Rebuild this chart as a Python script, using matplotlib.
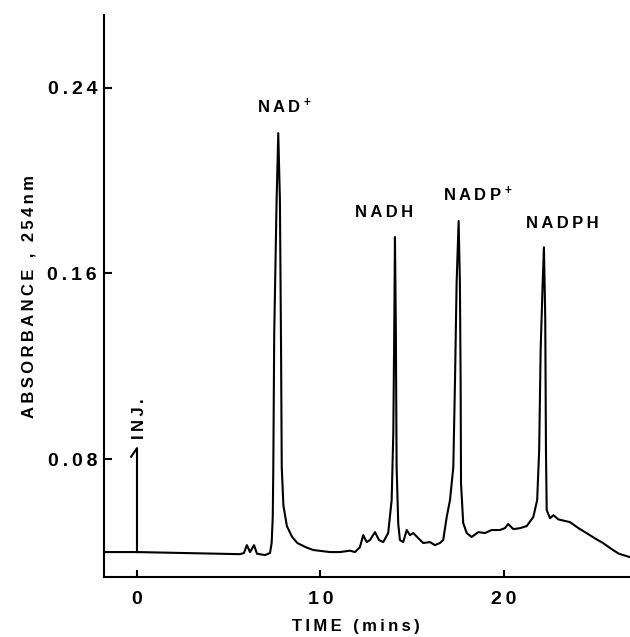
import matplotlib
matplotlib.use("Agg")
import matplotlib.pyplot as plt

# traced chromatogram (time in min, absorbance at 254 nm)
time = [-1.80, 0.00, 2.50, 5.61, 5.83, 5.99, 6.16, 6.38, 6.54, 6.98, 7.25,
        7.34, 7.40, 7.43, 7.48, 7.61, 7.70, 7.79, 7.85, 7.89, 7.98, 8.17, 8.45,
        8.74, 9.20, 9.60, 10.52, 11.06, 11.61, 11.88, 12.15, 12.33, 12.52, 12.70,
        12.97, 13.19, 13.42, 13.69, 13.88, 13.97, 14.02, 14.06, 14.11, 14.15,
        14.24, 14.33, 14.51, 14.70, 14.88, 15.06, 15.33, 15.60, 15.97, 16.24,
        16.51, 16.69, 16.88, 17.06, 17.24, 17.33, 17.42, 17.53, 17.60, 17.64,
        17.66, 17.78, 17.97, 18.24, 18.60, 18.96, 19.33, 19.78, 20.05, 20.23,
        20.51, 20.87, 21.24, 21.60, 21.81, 21.92, 22.00, 22.11, 22.18, 22.25,
        22.29, 22.33, 22.51, 22.70, 22.96, 23.60, 24.10, 24.50, 25.00, 25.40,
        25.90, 26.26, 26.87]
absorb = [0.0399, 0.0399, 0.0395, 0.0390, 0.0395, 0.0429, 0.0399, 0.0429, 0.0392,
          0.0386, 0.0395,
          0.0438, 0.0550, 0.0765, 0.1343, 0.1916, 0.2205, 0.1916, 0.1300, 0.0765,
          0.0600, 0.0511, 0.0465,
          0.0438, 0.0420, 0.0408, 0.0399, 0.0399, 0.0405, 0.0399, 0.0420, 0.0472,
          0.0442, 0.0451,
          0.0485, 0.0451, 0.0442, 0.0481, 0.0623, 0.0912, 0.1343, 0.1757, 0.1343,
          0.0765,
          0.0520, 0.0451, 0.0442, 0.0494, 0.0472, 0.0481, 0.0459, 0.0438, 0.0442,
          0.0429,
          0.0438, 0.0451, 0.0550, 0.0623, 0.0765, 0.1127, 0.1558, 0.1826, 0.1558,
          0.1127,
          0.0696, 0.0524, 0.0481, 0.0464, 0.0485, 0.0481, 0.0494, 0.0494, 0.0502,
          0.0520,
          0.0498, 0.0502, 0.0511, 0.0550, 0.0623, 0.0839, 0.1270, 0.1558, 0.1713,
          0.1412,
          0.0839, 0.0580, 0.0545, 0.0558, 0.0540, 0.0528, 0.0500, 0.0481, 0.0456,
          0.0438, 0.0410, 0.0392, 0.0377]

# injection mark
inj_t = [-0.32, 0.0, 0.0]
inj_v = [0.0810, 0.0847, 0.0399]

peak_names = ["NAD", "NADH", "NADP", "NADPH"]
peak_charge = ["+", "", "+", ""]
peak_label_t = [6.54, 11.88, 16.68, 21.20]
peak_label_v = [0.2292, 0.1843, 0.1912, 0.1795]

xticks = [0, 10, 20]
yticks = [0.08, 0.16, 0.24]
ytick_labels = ["0.08", "0.16", "0.24"]

plt.rcParams['font.family'] = ['Liberation Sans', 'DejaVu Sans']
plt.rcParams['mathtext.default'] = 'regular'


def spaced(s):
    # the original lettering is widely tracked
    return '\u2009'.join(s)


fig = plt.figure(figsize=(6.30, 6.37), dpi=100)
ax = fig.add_axes([0.165, 0.094, 0.835, 0.882])

ax.plot(time, absorb, color='black', lw=1.5, solid_joinstyle='round')
ax.plot(inj_t, inj_v, color='black', lw=1.5)

for name, ch, t, v in zip(peak_names, peak_charge, peak_label_t, peak_label_v):
    label = spaced(name) + (r"$^{\,+}$" if ch else "")
    ax.text(t, v, label, ha='left', va='baseline', fontsize=12, fontweight='bold')
ax.text(0.14, 0.0886, spaced("INJ."), rotation=90, ha='center', va='bottom',
        fontsize=12, fontweight='bold')

ax.set_xlim(-1.80, 26.87)
ax.set_ylim(0.0291, 0.2713)
ax.spines['top'].set_visible(False)
ax.spines['right'].set_visible(False)
for s in ['left', 'bottom']:
    ax.spines[s].set_linewidth(1.5)

ax.set_xticks(xticks)
ax.set_xticklabels([spaced(str(x)) for x in xticks], fontsize=14, fontweight='bold')
ax.set_yticks(yticks)
ax.set_yticklabels([spaced(s) for s in ytick_labels], fontsize=14, fontweight='bold')
ax.tick_params(axis='x', direction='in', length=5, width=1.5, pad=10)
ax.tick_params(axis='y', direction='in', length=6, width=1.5, pad=5)

ax.set_xlabel(spaced("TIME (mins)"), fontsize=12, fontweight='bold')
ax.set_ylabel(spaced("ABSORBANCE , 254nm"), fontsize=12, fontweight='bold')
ax.xaxis.set_label_coords(0.479, -0.074)
ax.yaxis.set_label_coords(-0.128, 0.5)

fig.savefig("out.png", dpi=100)
